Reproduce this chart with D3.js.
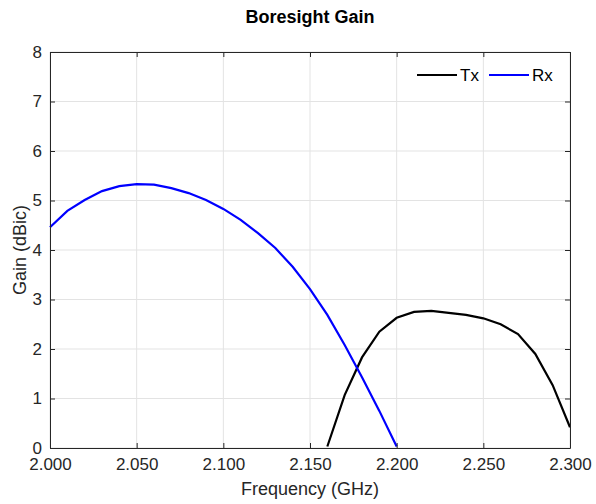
<!DOCTYPE html>
<meta charset="utf-8">
<head>
<script src="https://d3js.org/d3.v7.min.js"></script>
<style>
  body { margin: 0; background: #fff; }
  text { font-family: "Liberation Sans", Arial, sans-serif; fill: #262626; }
</style>
</head>
<body>
<svg id="chart" width="596" height="504"></svg>
<script>

// frequencies (GHz)
var rxFreq = [2.00, 2.01, 2.02, 2.03, 2.04, 2.05, 2.06, 2.07, 2.08, 2.09, 2.10,
              2.11, 2.12, 2.13, 2.14, 2.15, 2.16, 2.17, 2.18, 2.19, 2.20];
var rxGain = [4.46, 4.79, 5.01, 5.19, 5.29, 5.33, 5.32, 5.25, 5.15, 5.01, 4.83,
              4.61, 4.34, 4.04, 3.66, 3.21, 2.69, 2.08, 1.43, 0.75, 0.03];

var txFreq = [2.16, 2.17, 2.18, 2.19, 2.20, 2.21, 2.22, 2.23, 2.24, 2.25,
              2.26, 2.27, 2.28, 2.29, 2.30];
var txGain = [0.03, 1.07, 1.83, 2.35, 2.63, 2.75, 2.77, 2.73, 2.69, 2.62,
              2.50, 2.30, 1.90, 1.27, 0.42];

var xTicks = [2.00, 2.05, 2.10, 2.15, 2.20, 2.25, 2.30];
var yTicks = [0, 1, 2, 3, 4, 5, 6, 7, 8];

var seriesNames = ["Tx", "Rx"];
var seriesColors = ["#000000", "#0000ff"];

var svg = d3.select("#chart");
var margin = {top: 52, right: 26, bottom: 56, left: 50};
var width = 596 - margin.left - margin.right,
    height = 504 - margin.top - margin.bottom;

var x = d3.scaleLinear().domain([2.0, 2.3]).range([0, width]);
var y = d3.scaleLinear().domain([0, 8]).range([height, 0]);

var g = svg.append("g")
    .attr("transform", "translate(" + margin.left + "," + margin.top + ")");

// grid
g.append("g").selectAll("line")
    .data(xTicks)
    .enter().append("line")
    .attr("x1", d => x(d)).attr("x2", d => x(d))
    .attr("y1", 0).attr("y2", height)
    .attr("stroke", "#e3e3e3").attr("stroke-width", 1);
g.append("g").selectAll("line")
    .data(yTicks)
    .enter().append("line")
    .attr("x1", 0).attr("x2", width)
    .attr("y1", d => y(d)).attr("y2", d => y(d))
    .attr("stroke", "#e3e3e3").attr("stroke-width", 1);

// lines
var line = d3.line()
    .x(d => x(d[0]))
    .y(d => y(d[1]));

var txData = txFreq.map((f, i) => [f, txGain[i]]);
var rxData = rxFreq.map((f, i) => [f, rxGain[i]]);

g.append("path")
    .datum(txData)
    .attr("d", line)
    .attr("fill", "none")
    .attr("stroke", seriesColors[0])
    .attr("stroke-width", 2.2);

g.append("path")
    .datum(rxData)
    .attr("d", line)
    .attr("fill", "none")
    .attr("stroke", seriesColors[1])
    .attr("stroke-width", 2.2);

// axes (ticks inside, box on all sides)
var axisColor = "#262626";
var tickLen = 5;

var xAxis = g.append("g")
    .attr("transform", "translate(0," + height + ")")
    .call(d3.axisBottom(x).tickValues(xTicks).tickFormat(d3.format(".3f"))
          .tickSizeInner(-tickLen).tickSizeOuter(0).tickPadding(12));
var yAxis = g.append("g")
    .call(d3.axisLeft(y).tickValues(yTicks).tickFormat(d3.format("d"))
          .tickSizeInner(-tickLen).tickSizeOuter(0).tickPadding(12));
var xTop = g.append("g")
    .call(d3.axisTop(x).tickValues(xTicks).tickFormat("")
          .tickSizeInner(-tickLen).tickSizeOuter(0));
var yRight = g.append("g")
    .attr("transform", "translate(" + width + ",0)")
    .call(d3.axisRight(y).tickValues(yTicks).tickFormat("")
          .tickSizeInner(-tickLen).tickSizeOuter(0));

[xAxis, yAxis, xTop, yRight].forEach(function(a) {
  a.select(".domain").attr("stroke", axisColor).attr("stroke-width", 1);
  a.selectAll(".tick line").attr("stroke", axisColor).attr("stroke-width", 1);
  a.selectAll(".tick text")
    .attr("font-family", "Liberation Sans, Arial, sans-serif")
    .attr("font-size", 17)
    .attr("fill", axisColor);
});
yAxis.selectAll(".tick text").attr("dx", "4px");
xAxis.selectAll(".tick text").attr("dy", "0.6em");

// title and labels
svg.append("text")
    .attr("x", margin.left + width / 2)
    .attr("y", 23)
    .attr("text-anchor", "middle")
    .attr("font-size", 18)
    .attr("font-weight", "bold")
    .style("fill", "#000")
    .text("Boresight Gain");

svg.append("text")
    .attr("x", margin.left + width / 2)
    .attr("y", 495)
    .attr("text-anchor", "middle")
    .attr("font-size", 18)
    .text("Frequency (GHz)");

svg.append("text")
    .attr("transform", "translate(26," + (margin.top + height / 2) + ") rotate(-90)")
    .attr("text-anchor", "middle")
    .attr("font-size", 18)
    .text("Gain (dBic)");

// legend (no box)
var legend = g.append("g").attr("class", "legend");
var legendX = [367, 439];
seriesNames.forEach(function(name, i) {
  legend.append("line")
      .attr("x1", legendX[i]).attr("x2", legendX[i] + 40)
      .attr("y1", 23).attr("y2", 23)
      .attr("stroke", seriesColors[i])
      .attr("stroke-width", 2.2);
  legend.append("text")
      .attr("x", legendX[i] + 43)
      .attr("y", 29)
      .attr("font-size", 17)
      .style("fill", "#000")
      .text(name);
});

</script>
</body>
</html>
